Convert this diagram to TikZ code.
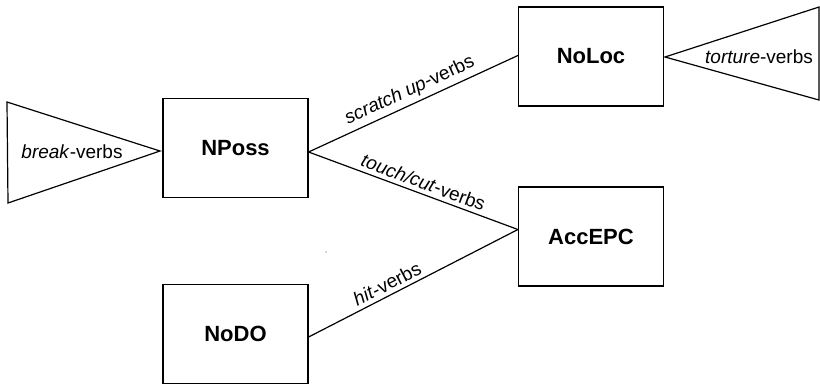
\documentclass[tikz,border=0pt]{standalone}
\usepackage{fontspec}
\setmainfont{Liberation Sans}
\tikzset{
  box/.style={draw=black, line width=1.2pt, minimum width=145pt, minimum height=99pt, inner sep=0pt, font=\fontsize{22}{26}\selectfont\bfseries},
  edgeline/.style={draw=black, line width=1.2pt},
  lbl/.style={font=\fontsize{19}{23}\selectfont, inner sep=2pt},
  tri/.style={draw=black, line width=1.2pt, line join=miter},
}
\begin{document}
\begin{tikzpicture}[x=1pt,y=-1pt]
\useasboundingbox (0,0) rectangle (820,384);
% boxes
\node[box] (npos) at (235.5,148) {NPoss};
\node[box] (noloc) at (591,56.5) {NoLoc};
\node[box] (acc) at (591,236.5) {AccEPC};
\node[box] (nodo) at (235.5,334) {NoDO};
% triangles
\coordinate (lt1) at (7,102);
\coordinate (lapex) at (160,151);
\coordinate (lt2) at (8,203);
\draw[tri] (lt1) -- (lapex) -- (lt2) -- cycle;
\node[lbl, anchor=base] (breaklbl) at (72,158) {\textit{break}-verbs};
\coordinate (rapex) at (665,57);
\coordinate (rt1) at (819,7);
\coordinate (rt2) at (819,100);
\draw[tri] (rapex) -- (rt1) -- (rt2) -- cycle;
\node[lbl, anchor=base] (torturelbl) at (759,63) {\textit{torture}-verbs};
% connectors
\draw[edgeline] ([yshift=-4pt]npos.east) -- node[lbl, sloped, above, pos=0.51, yshift=2pt] (l1) {\textit{scratch up}-verbs} ([yshift=1pt]noloc.west);
\draw[edgeline] ([yshift=-4pt]npos.east) -- node[lbl, sloped, above, pos=0.53, yshift=2pt] (l2) {\textit{touch/cut}-verbs} ([yshift=7pt]acc.west);
\draw[edgeline] ([yshift=-3pt]nodo.east) -- node[lbl, sloped, above, pos=0.4, yshift=2pt] (l3) {\textit{hit}-verbs} ([yshift=7pt]acc.west);
% stray dot
\fill[black!70] (326,252) circle (0.6pt);
\end{tikzpicture}
\end{document}
